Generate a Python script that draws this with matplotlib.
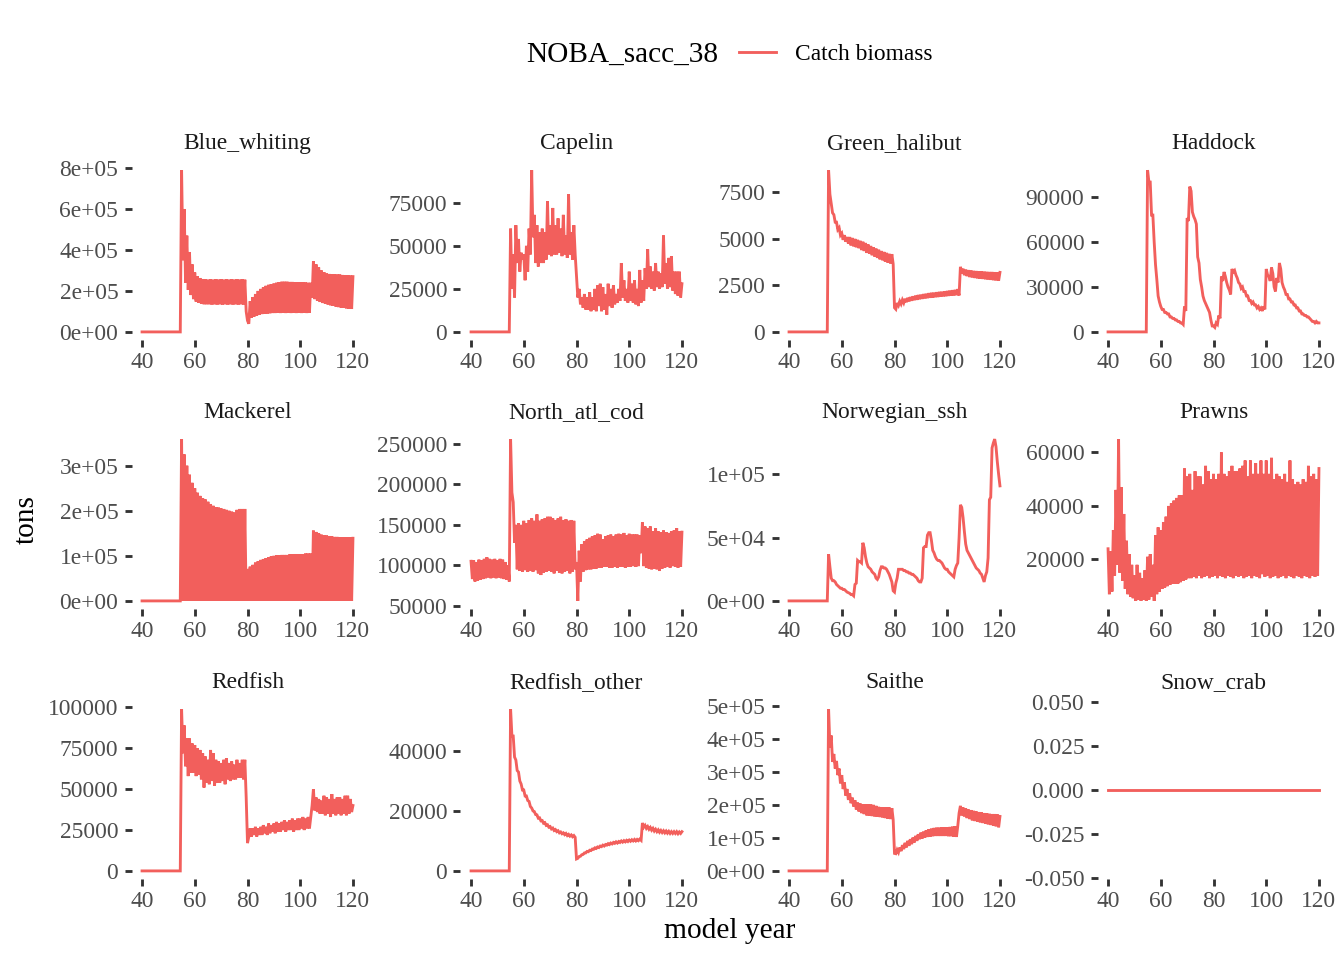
import matplotlib
matplotlib.use("Agg")
import matplotlib.pyplot as plt

plt.rcParams['font.family'] = ['Liberation Serif', 'DejaVu Serif']

# time axis: whole years and the half-year points in between
YEARS = list(range(40, 121))
MID_YEARS = [y + 0.5 for y in range(40, 120)]

# catch biomass in thousand tons
BLUE_WHITING_YEAR = [
    0, 0, 0, 0, 0, 0, 0, 0, 0, 0,
    0, 0, 0, 0, 0, 790, 600, 470, 390, 330,
    290, 272, 263, 258, 256, 255, 256, 255, 256, 255,
    256, 255, 256, 255, 256, 255, 256, 255, 256, 255,
    55, 150, 170, 185, 200, 210, 218, 225, 230, 233,
    236, 240, 243, 245, 245, 245, 244, 244, 243, 243,
    242, 242, 241, 240, 240, 345, 330, 315, 300, 292,
    285, 283, 282, 281, 280, 280, 278, 277, 276, 275,
    270]
BLUE_WHITING_MID = [
    0, 0, 0, 0, 0, 0, 0, 0, 0, 0,
    0, 0, 0, 0, 0, 350, 240, 205, 180, 160,
    148, 142, 138, 135, 135, 135, 134, 135, 134, 135,
    134, 135, 134, 135, 134, 135, 134, 135, 134, 100,
    40, 70, 75, 80, 84, 87, 89, 90, 91, 92,
    92, 93, 92, 93, 92, 93, 92, 93, 92, 93,
    92, 93, 92, 93, 168, 160, 152, 146, 141, 138,
    134, 130, 127, 124, 121, 119, 117, 115, 114, 112]

CAPELIN_YEAR = [
    0, 0, 0, 0, 0, 0, 0, 0, 0, 0,
    0, 0, 0, 0, 0, 60, 45, 62, 54, 46,
    45, 50, 60, 94, 68, 62, 58, 60, 58, 76,
    62, 72, 62, 66, 60, 68, 56, 80, 58, 62,
    32, 25, 20, 22, 20, 23, 20, 25, 27, 28,
    26, 22, 28, 25, 27, 22, 25, 40, 30, 25,
    35, 28, 30, 25, 36, 30, 37, 48, 38, 35,
    40, 35, 34, 56, 40, 43, 44, 35, 35, 35,
    28]
CAPELIN_MID = [
    0, 0, 0, 0, 0, 0, 0, 0, 0, 0,
    0, 0, 0, 0, 0, 25, 20, 40, 35, 42,
    30, 35, 45, 55, 40, 38, 40, 40, 42, 45,
    44, 45, 45, 46, 44, 45, 43, 45, 42, 45,
    20, 16, 14, 13, 13, 12, 13, 12, 15, 12,
    13, 10, 15, 14, 16, 17, 18, 20, 18, 17,
    18, 17, 16, 15, 17, 18, 25, 26, 25, 24,
    26, 25, 26, 28, 25, 26, 24, 22, 21, 20]

GREEN_HALIBUT_YEAR = [
    0, 0, 0, 0, 0, 0, 0, 0, 0, 0,
    0, 0, 0, 0, 0, 8.7, 6.9, 6.3, 5.9, 5.6,
    5.3, 5.2, 5.1, 5.1, 5.05, 5.0, 4.95, 4.9, 4.85, 4.78,
    4.7, 4.62, 4.55, 4.48, 4.42, 4.35, 4.3, 4.25, 4.2, 4.18,
    1.3, 1.55, 1.65, 1.72, 1.78, 1.83, 1.87, 1.91, 1.95, 1.98,
    2.0, 2.03, 2.05, 2.08, 2.1, 2.11, 2.13, 2.15, 2.16, 2.18,
    2.2, 2.22, 2.24, 2.26, 2.3, 3.5, 3.4, 3.35, 3.32, 3.3,
    3.28, 3.27, 3.26, 3.25, 3.24, 3.23, 3.22, 3.22, 3.21, 3.2,
    3.2]
GREEN_HALIBUT_MID = [
    0, 0, 0, 0, 0, 0, 0, 0, 0, 0,
    0, 0, 0, 0, 0, 7.4, 6.4, 5.9, 5.5, 5.2,
    4.95, 4.85, 4.75, 4.65, 4.6, 4.55, 4.5, 4.4, 4.35, 4.25,
    4.2, 4.12, 4.05, 3.98, 3.9, 3.85, 3.78, 3.72, 3.68, 3.65,
    1.22, 1.42, 1.5, 1.56, 1.6, 1.64, 1.68, 1.71, 1.73, 1.76,
    1.78, 1.8, 1.82, 1.84, 1.85, 1.87, 1.88, 1.9, 1.91, 1.92,
    1.94, 1.95, 1.96, 1.98, 1.96, 3.15, 3.05, 3.0, 2.95, 2.93,
    2.9, 2.88, 2.86, 2.85, 2.83, 2.82, 2.8, 2.78, 2.77, 2.76]

HADDOCK_YEAR = [
    0, 0, 0, 0, 0, 0, 0, 0, 0, 0,
    0, 0, 0, 0, 0, 108, 100, 78, 45, 24,
    17, 15, 13, 12, 10, 9, 8, 7, 6, 17,
    76, 97, 80, 75, 50, 35, 24, 19, 15, 8,
    4, 6, 11, 37, 40, 33, 28, 42, 41, 36,
    32, 30, 27, 24, 21, 20, 18, 17, 16, 17,
    42, 37, 43, 30, 36, 46, 33, 28, 25, 22,
    20, 18, 16, 14, 12, 11, 10, 8, 7, 7,
    6]
HADDOCK_MID = [
    0, 0, 0, 0, 0, 0, 0, 0, 0, 0,
    0, 0, 0, 0, 0, 100, 78, 60, 35, 20,
    15, 13, 12, 10, 9, 8, 7, 6, 5, 14,
    74, 94, 77, 72, 46, 30, 21, 17, 13, 4,
    3, 5, 9, 34, 37, 30, 25, 40, 38, 33,
    29, 27, 24, 21, 19, 18, 16, 15, 14, 15,
    38, 34, 39, 27, 33, 42, 30, 25, 22, 20,
    18, 16, 14, 12, 11, 10, 9, 7, 6, 6]

MACKEREL_YEAR = [
    0, 0, 0, 0, 0, 0, 0, 0, 0, 0,
    0, 0, 0, 0, 0, 359, 325, 300, 280, 262,
    250, 240, 233, 228, 225, 220, 215, 211, 208, 207,
    205, 204, 202, 200, 198, 196, 202, 204, 204, 204,
    71, 76, 80, 85, 88, 91, 93, 95, 97, 99,
    100, 101, 101, 102, 102, 102, 103, 103, 104, 104,
    104, 104, 105, 105, 105, 156, 153, 150, 147, 146,
    145, 144, 143, 142, 142, 141, 141, 141, 141, 141,
    139]
# catch falls back to zero between the fishing seasons
MACKEREL_MID = [0] * 80

NORTH_ATL_COD_YEAR = [
    105, 106, 104, 107, 106, 108, 110, 108, 107, 108,
    106, 108, 107, 104, 100, 256, 178, 150, 152, 150,
    155, 152, 156, 158, 155, 163, 155, 157, 158, 160,
    160, 158, 156, 158, 160, 156, 157, 155, 156, 155,
    104, 118, 126, 130, 132, 134, 136, 137, 139, 138,
    132, 136, 137, 138, 136, 138, 139, 138, 140, 137,
    139, 138, 138, 138, 137, 153, 148, 146, 148, 142,
    146, 142, 141, 143, 141, 140, 142, 143, 146, 142,
    141]
NORTH_ATL_COD_MID = [
    83, 80, 81, 82, 83, 84, 85, 84, 85, 84,
    85, 84, 83, 82, 80, 190, 128, 95, 93, 92,
    94, 92, 93, 92, 94, 90, 88, 91, 92, 93,
    92, 90, 93, 91, 90, 92, 93, 90, 92, 95,
    56, 80, 92, 94, 95, 95, 96, 96, 97, 97,
    98, 98, 97, 97, 98, 97, 98, 98, 97, 98,
    98, 99, 98, 99, 115, 99, 97, 96, 95, 96,
    95, 93, 96, 97, 98, 97, 99, 98, 97, 98]

NORWEGIAN_SSH_YEAR = [
    0, 0, 0, 0, 0, 0, 0, 0, 0, 0,
    0, 0, 0, 0, 0, 37, 18, 16, 13, 11,
    10, 9, 7, 6, 5, 13, 32, 31, 46, 35,
    27, 25, 22, 18, 19, 27, 26, 25, 21, 15,
    7, 18, 25, 25, 24, 23, 22, 21, 19, 16,
    15, 42, 43, 54, 48, 38, 33, 32, 30, 26,
    25, 22, 20, 25, 30, 76, 66, 45, 38, 34,
    30, 26, 24, 21, 15, 23, 80, 121, 128, 110,
    91]
NORWEGIAN_SSH_MID = [
    0, 0, 0, 0, 0, 0, 0, 0, 0, 0,
    0, 0, 0, 0, 0, 27, 16, 15, 12, 10,
    9, 8, 6.5, 5, 4, 14, 31, 30, 42, 30,
    26, 23, 21, 17, 24, 27, 26, 23, 18, 8,
    14, 25, 25, 24, 23, 22, 21, 20, 18, 15,
    18, 43, 52, 54, 40, 35, 32, 31, 28, 25,
    23, 21, 19, 28, 50, 74, 55, 40, 36, 32,
    28, 25, 22, 18, 20, 34, 82, 125, 122, 100]

PRAWNS_YEAR = [
    24, 23, 31, 46, 65, 47, 37, 27, 22, 18,
    14, 18, 15, 13, 16, 21, 22, 18, 29, 32,
    31, 34, 36, 40, 41, 42, 43, 44, 44, 54,
    51, 52, 46, 53, 51, 51, 48, 55, 53, 50,
    52, 50, 52, 60, 52, 51, 53, 55, 53, 53,
    54, 55, 57, 51, 57, 52, 56, 52, 57, 52,
    57, 52, 58, 50, 52, 51, 50, 52, 49, 57,
    50, 48, 49, 48, 50, 49, 55, 51, 52, 50,
    54]
PRAWNS_MID = [
    7, 8, 14, 18, 15, 12, 9, 7, 6, 5.5,
    4.5, 5, 4.5, 5, 4.5, 5, 6, 4.5, 7, 8,
    9, 9.5, 10, 10.5, 11, 11, 11, 11.5, 12, 12.5,
    13, 13, 13.5, 13, 14, 13, 13.5, 14, 13, 13.5,
    14, 13, 14, 13.5, 13, 14, 13.5, 13, 14, 13.5,
    14, 13, 13.5, 14, 13, 14, 13.5, 13, 14.5, 13.5,
    14, 13, 13.5, 14, 13, 13.5, 14, 13, 14, 13.5,
    13, 14, 13.5, 13, 14, 13.5, 13, 14, 13.5, 14]

REDFISH_YEAR = [
    0, 0, 0, 0, 0, 0, 0, 0, 0, 0,
    0, 0, 0, 0, 0, 99, 89, 81, 81, 78,
    77, 75, 74, 72, 70, 68, 74, 72, 68, 67,
    66, 68, 69, 66, 67, 65, 68, 66, 68, 68,
    17, 26, 26, 27, 26, 27, 28, 27, 29, 28,
    29, 30, 29, 30, 31, 30, 31, 32, 31, 32,
    32, 33, 32, 33, 33, 50, 45, 44, 43, 46,
    45, 44, 47, 44, 45, 45, 44, 46, 46, 44,
    40]
REDFISH_MID = [
    0, 0, 0, 0, 0, 0, 0, 0, 0, 0,
    0, 0, 0, 0, 0, 72, 64, 58, 60, 60,
    58, 59, 56, 51, 54, 53, 55, 52, 54, 54,
    55, 53, 56, 55, 56, 56, 57, 57, 56, 45,
    21, 21, 22, 21, 22, 22, 23, 22, 23, 24,
    23, 24, 24, 25, 24, 25, 25, 24, 25, 25,
    26, 25, 26, 26, 40, 37, 36, 35, 35, 34,
    35, 33, 35, 34, 35, 34, 35, 34, 35, 36]

REDFISH_OTHER_YEAR = [
    0, 0, 0, 0, 0, 0, 0, 0, 0, 0,
    0, 0, 0, 0, 0, 54, 45, 37, 33, 29,
    27, 25, 23.2, 21, 19.8, 18.7, 17.7, 16.8, 16.1, 15.4,
    14.8, 14.3, 13.8, 13.4, 13.0, 12.7, 12.5, 12.2, 12.0, 11.8,
    4.0, 4.8, 5.4, 6.0, 6.5, 6.9, 7.3, 7.7, 8.0, 8.3,
    8.6, 8.8, 9.1, 9.3, 9.5, 9.7, 9.8, 10.0, 10.1, 10.2,
    10.3, 10.4, 10.5, 10.5, 10.6, 16.0, 15.2, 14.8, 14.5, 14.2,
    13.9, 13.7, 13.5, 13.4, 13.3, 13.2, 13.1, 13.1, 13.1, 13.0,
    13.1]
REDFISH_OTHER_MID = [
    0, 0, 0, 0, 0, 0, 0, 0, 0, 0,
    0, 0, 0, 0, 0, 45, 38, 33.5, 30, 27,
    25, 23.5, 21.5, 20, 18.8, 17.6, 16.7, 15.9, 15.2, 14.6,
    14.0, 13.5, 13.1, 12.7, 12.4, 12.1, 11.8, 11.6, 11.4, 11.2,
    4.2, 4.9, 5.5, 6.0, 6.4, 6.8, 7.2, 7.5, 7.8, 8.1,
    8.3, 8.6, 8.8, 9.0, 9.2, 9.3, 9.5, 9.6, 9.7, 9.8,
    9.9, 10.0, 10.0, 10.1, 10.2, 14.6, 14.2, 13.9, 13.6, 13.3,
    13.1, 12.9, 12.8, 12.7, 12.6, 12.5, 12.5, 12.5, 12.4, 12.5]

SAITHE_YEAR = [
    0, 0, 0, 0, 0, 0, 0, 0, 0, 0,
    0, 0, 0, 0, 0, 490, 410, 354, 333, 310,
    290, 268, 248, 235, 222, 214, 207, 204, 202, 202,
    202, 201, 200, 197, 194, 193, 192, 192, 192, 190,
    53, 64, 71, 78, 85, 91, 96, 101, 106, 111,
    116, 119, 123, 126, 128, 130, 131, 131, 132, 132,
    132, 133, 134, 135, 136, 197, 192, 189, 186, 184,
    182, 180, 178, 177, 175, 174, 173, 172, 172, 171,
    165]
SAITHE_MID = [
    0, 0, 0, 0, 0, 0, 0, 0, 0, 0,
    0, 0, 0, 0, 0, 374, 330, 310, 290, 265,
    248, 228, 215, 205, 195, 186, 180, 175, 172, 168,
    167, 166, 165, 164, 163, 162, 160, 158, 157, 155,
    52, 56, 60, 66, 71, 76, 81, 86, 91, 96,
    98, 101, 103, 104, 105, 106, 106, 106, 106, 106,
    105, 105, 104, 103, 175, 168, 165, 160, 157, 153,
    151, 149, 147, 145, 143, 141, 139, 137, 135, 132]

# no snow crab caught at all
SNOW_CRAB_YEAR = [0] * 81
SNOW_CRAB_MID = [0] * 80

SPECIES = ["Blue_whiting", "Capelin", "Green_halibut", "Haddock",
           "Mackerel", "North_atl_cod", "Norwegian_ssh", "Prawns",
           "Redfish", "Redfish_other", "Saithe", "Snow_crab"]
SERIES = [
    (BLUE_WHITING_YEAR, BLUE_WHITING_MID),
    (CAPELIN_YEAR, CAPELIN_MID),
    (GREEN_HALIBUT_YEAR, GREEN_HALIBUT_MID),
    (HADDOCK_YEAR, HADDOCK_MID),
    (MACKEREL_YEAR, MACKEREL_MID),
    (NORTH_ATL_COD_YEAR, NORTH_ATL_COD_MID),
    (NORWEGIAN_SSH_YEAR, NORWEGIAN_SSH_MID),
    (PRAWNS_YEAR, PRAWNS_MID),
    (REDFISH_YEAR, REDFISH_MID),
    (REDFISH_OTHER_YEAR, REDFISH_OTHER_MID),
    (SAITHE_YEAR, SAITHE_MID),
    (SNOW_CRAB_YEAR, SNOW_CRAB_MID),
]

X_TICKS = [40, 60, 80, 100, 120]
Y_TICKS = [
    [0, 2e5, 4e5, 6e5, 8e5],
    [0, 25000, 50000, 75000],
    [0, 2500, 5000, 7500],
    [0, 30000, 60000, 90000],
    [0, 1e5, 2e5, 3e5],
    [50000, 100000, 150000, 200000, 250000],
    [0, 5e4, 1e5],
    [20000, 40000, 60000],
    [0, 25000, 50000, 75000, 100000],
    [0, 20000, 40000],
    [0, 1e5, 2e5, 3e5, 4e5, 5e5],
    [-0.05, -0.025, 0, 0.025, 0.05],
]
Y_TICK_LABELS = [
    ["0e+00", "2e+05", "4e+05", "6e+05", "8e+05"],
    ["0", "25000", "50000", "75000"],
    ["0", "2500", "5000", "7500"],
    ["0", "30000", "60000", "90000"],
    ["0e+00", "1e+05", "2e+05", "3e+05"],
    ["50000", "100000", "150000", "200000", "250000"],
    ["0e+00", "5e+04", "1e+05"],
    ["20000", "40000", "60000"],
    ["0", "25000", "50000", "75000", "100000"],
    ["0", "20000", "40000"],
    ["0e+00", "1e+05", "2e+05", "3e+05", "4e+05", "5e+05"],
    ["-0.050", "-0.025", "0.000", "0.025", "0.050"],
]

LINE_COLOR = "#F25F5C"

# panel placement in pixels of the 1344x960 picture
W, H = 1344, 960
COL_LEFT = [131.5, 460.5, 778.5, 1097.5]
ROW_TOP = [162, 431, 701]
PANEL_W, PANEL_H = 232, 178

fig = plt.figure(figsize=(7, 5), dpi=192)

line = None
for i, name in enumerate(SPECIES):
    r, c = divmod(i, 4)
    ax = fig.add_axes([COL_LEFT[c] / W, 1 - (ROW_TOP[r] + PANEL_H) / H,
                       PANEL_W / W, PANEL_H / H])
    year_vals, mid_vals = SERIES[i]
    assert len(year_vals) == 81 and len(mid_vals) == 80, name
    t, v = [], []
    for k, yr in enumerate(YEARS):
        t.append(yr)
        v.append(year_vals[k] * 1000)
        if k < len(MID_YEARS):
            t.append(MID_YEARS[k])
            v.append(mid_vals[k] * 1000)
    line, = ax.plot(t, v, color=LINE_COLOR, lw=1.07, solid_joinstyle='miter')
    ax.margins(x=0.05, y=0.05)
    if name == "Snow_crab":
        ax.set_ylim(-0.0503, 0.0503)

    for s in ax.spines.values():
        s.set_visible(False)
    ax.set_xticks(X_TICKS)
    ax.set_xticklabels([str(x) for x in X_TICKS])
    ax.set_yticks(Y_TICKS[i])
    ax.set_yticklabels(Y_TICK_LABELS[i])
    ax.tick_params(axis='both', length=2.75, width=1.07, color='#333333',
                   labelsize=8.8, labelcolor='#4D4D4D')
    ax.tick_params(axis='x', pad=1.8)
    ax.tick_params(axis='y', pad=2.2)
    ax.annotate(name, xy=(0.5, 1), xycoords='axes fraction',
                xytext=(0, 4.9), textcoords='offset points',
                ha='center', va='baseline', fontsize=8.8, color='#1A1A1A')

fig.text(27 / W, 1 - 520 / H, "tons", rotation=90, ha='center',
         va='center', fontsize=11)
fig.text(730 / W, 1 - 931 / H, "model year", ha='center', va='center',
         fontsize=11)

# legend on top: title on the left, key and label to the right
fig.text(718 / W, 1 - 61.5 / H, "NOBA_sacc_38", ha='right',
         va='baseline', fontsize=11)
fig.legend([line], ["Catch biomass"], loc='center left',
           bbox_to_anchor=(739 / W, 1 - 54 / H), frameon=False,
           fontsize=8.8, handlelength=1.58, handletextpad=0.8,
           borderpad=0, borderaxespad=0)

fig.savefig("out.png", dpi=192)
